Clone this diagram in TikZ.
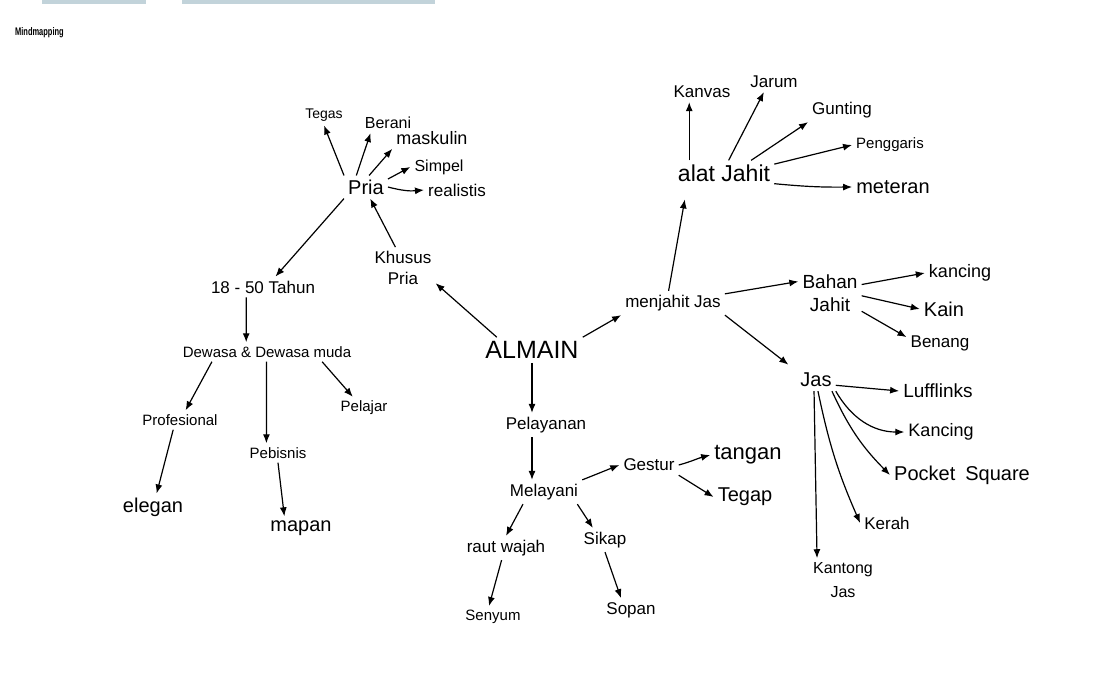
\documentclass[tikz,border=0pt]{standalone}
\usepackage{fontspec}
\setmainfont{Liberation Sans}
\usetikzlibrary{arrows.meta}
\tikzset{>={Latex[length=9pt,width=7pt]}}
\definecolor{stripcol}{HTML}{C2D3DA}
\tikzset{idea/.style = {font=\fontsize{20}{24}\selectfont, inner sep=4pt, align=center}}
\tikzset{fs/.style = {font=\fontsize{#1}{#1}\selectfont}}
\tikzset{link/.style = {->, line width=1.2pt}}

\begin{document}
\begin{tikzpicture}[x=1pt,y=-1pt]
    \useasboundingbox (0,0) rectangle (1097,689);
    \fill[white] (0,0) rectangle (1097,689);
    \fill[stripcol] (42,0) rectangle (146,4);
    \fill[stripcol] (182,0) rectangle (435,4);
    \node[anchor=west, font=\fontsize{11}{13}\selectfont\bfseries, inner sep=0pt, xscale=0.68, transform shape] (title) at (15,33) {Mindmapping};

    % centre
    \node[idea, fs=25] (almain) at (532,350) {ALMAIN};

    % Pria side
    \node[idea, fs=17] (khusus) at (403,268) {Khusus\\[4pt]Pria};
    \node[idea] (pria) at (366,187) {Pria};
    \node[idea, fs=14] (tegas) at (324,115) {Tegas};
    \node[idea, fs=16] (berani) at (388,123) {Berani};
    \node[idea, fs=18] (maskulin) at (432,138) {maskulin};
    \node[idea, fs=16] (simpel) at (439,167) {Simpel};
    \node[idea, fs=17] (realistis) at (457,190) {realistis};
    \node[idea, fs=17] (tahun) at (263,287) {18 - 50 Tahun};
    \node[idea, fs=15] (dewasa) at (267,352) {Dewasa \& Dewasa muda};
    \node[idea, fs=15] (profesional) at (180,420) {Profesional};
    \node[idea, fs=15] (pelajar) at (364,408) {Pelajar};
    \node[idea, fs=15] (pebisnis) at (278,453) {Pebisnis};
    \node[idea] (elegan) at (153,507) {elegan};
    \node[idea] (mapan) at (301,528) {mapan};

    % Pelayanan side
    \node[idea, fs=17] (pelayanan) at (546,425) {Pelayanan};
    \node[idea, fs=17] (melayani) at (544,492) {Melayani};
    \node[idea, fs=17] (gestur) at (649,465) {Gestur};
    \node[idea, fs=22] (tangan) at (748,455) {tangan};
    \node[idea] (tegap) at (745,497) {Tegap};
    \node[idea, fs=17] (raut) at (506,548) {raut wajah};
    \node[idea, fs=17] (sikap) at (605,540) {Sikap};
    \node[idea, fs=15] (senyum) at (493,617) {Senyum};
    \node[idea, fs=17] (sopan) at (631,610) {Sopan};

    % menjahit side
    \node[idea, fs=17] (menjahit) at (673,303) {menjahit Jas};
    \node[idea, fs=23] (alat) at (724,173) {alat Jahit};
    \node[idea, fs=17] (kanvas) at (702,92) {Kanvas};
    \node[idea, fs=17] (jarum) at (774,82) {Jarum};
    \node[idea, fs=17] (gunting) at (842,110) {Gunting};
    \node[idea, fs=15] (penggaris) at (890,145) {Penggaris};
    \node[idea] (meteran) at (893,187) {meteran};
    \node[idea, fs=19] (bahan) at (830,293) {Bahan\\[4pt]Jahit};
    \node[idea, fs=18] (kancing) at (960,273) {kancing};
    \node[idea] (kain) at (944,309) {Kain};
    \node[idea, fs=17] (benang) at (940,343) {Benang};
    \node[idea] (jas) at (816,380) {Jas};
    \node[idea, fs=19] (cufflinks) at (938,391) {Lufflinks};
    \node[idea, fs=18] (kancingjas) at (941,432) {Kancing};
    \node[idea] (pocket) at (962,475) {Pocket\enspace Square};
    \node[idea, fs=17] (kerah) at (887,523) {Kerah};
    \node[idea, fs=16] (kantong) at (843,580) {Kantong\\[8pt]Jas};

    % arrows
    \draw[link] (almain.160) -- (khusus.-25);
    \draw[link] (khusus.110) -- (pria.-70);
    \draw[link] (pria.north west) -- (tegas.south);
    \draw[link] (pria.130) -- (berani.-150);
    \draw[link] (pria.75) -- (maskulin.south west);
    \draw[link] (pria.20) -- (simpel.west);
    \draw[link] (pria.east) to[bend right=10] (realistis.west);
    \draw[link] (pria.south west) -- (tahun.40);
    \draw[link] (tahun.-148) -- (dewasa.155);
    \draw[link] (dewasa.-170) -- (profesional.60);
    \draw[link] (dewasa.-93) -- (pebisnis.140);
    \draw[link] (dewasa.-10) -- (pelajar.135);
    \draw[link] (profesional.-125) -- (elegan.75);
    \draw[link] (pebisnis.south) -- (mapan.145);

    \draw[link] (almain.south) -- (almain.south |- pelayanan.north);
    \draw[link] (pelayanan.south -| almain.south) -- (melayani.north -| almain.south);
    \draw[link] (melayani.north east) -- (gestur.west);
    \draw[link] (gestur.east) to[out=15,in=195] (tangan.west);
    \draw[link] (gestur.south east) -- (tegap.west);
    \draw[link] (melayani.-150) -- (raut.north);
    \draw[link] (melayani.-20) -- (sikap.135);
    \draw[link] (raut.-110) -- (senyum.110);
    \draw[link] (sikap.south) -- (sopan.130);

    \draw[link] (almain.north east) -- (menjahit.south west);
    \draw[link, shorten >=14pt] (menjahit.110) -- (alat.-161);
    \draw[link] (alat.160) -- (alat.160 |- kanvas.south);
    \draw[link] (alat.70) -- (jarum.-135);
    \draw[link] (alat.25) -- (gunting.south west);
    \draw[link] (alat.10) -- (penggaris.west);
    \draw[link] (alat.-12) to[bend right=3] (meteran.west);
    \draw[link] (menjahit.10) -- (bahan.160);
    \draw[link] (bahan.15) -- (kancing.west);
    \draw[link] (bahan.-5) -- (kain.west);
    \draw[link] (bahan.-30) -- (benang.170);
    \draw[link, shorten >=10pt] (menjahit.south east) -- (jas.155);
    \draw[link] (jas.-15) -- (cufflinks.west);
    \draw[link] (jas.south east) to[out=-60,in=180] (kancingjas.west);
    \draw[link] (jas.-35) to[bend right=10] (pocket.west);
    \draw[link] (jas.-80) to[bend right=6] (kerah.west);
    \draw[link] (jas.-100) -- (kantong.140);
\end{tikzpicture}
\end{document}
